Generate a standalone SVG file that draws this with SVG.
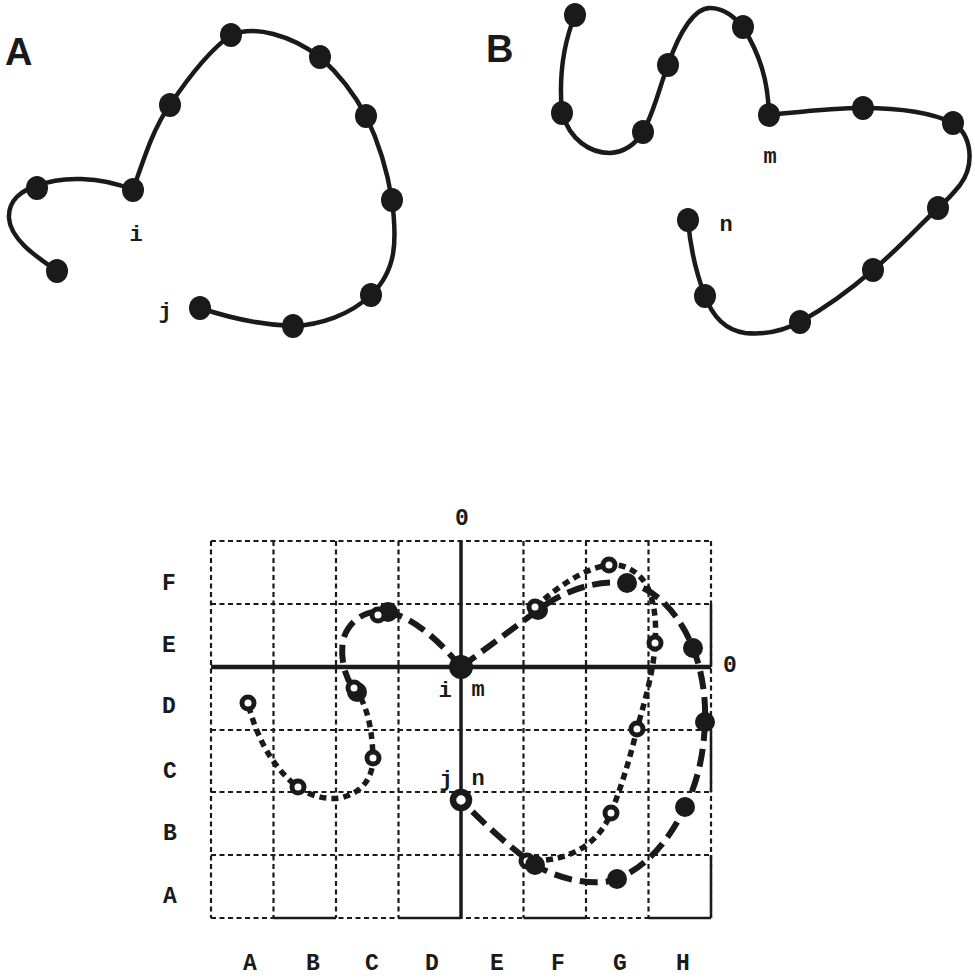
<svg xmlns="http://www.w3.org/2000/svg" width="975" height="979" viewBox="0 0 975 979">
<style>
.bg{fill:#fff}
.curve{fill:none;stroke:#1a1a1a;stroke-width:4.5;stroke-linecap:round;stroke-linejoin:round}
.dot{fill:#1a1a1a}
.grid{fill:none;stroke:#1a1a1a;stroke-width:2.2;stroke-dasharray:5 3.5}
.gsolid{fill:none;stroke:#1a1a1a;stroke-width:2.5}
.axis{fill:none;stroke:#1a1a1a;stroke-width:4.5}
.dashA{fill:none;stroke:#1a1a1a;stroke-width:6;stroke-dasharray:18 8}
.dashB{fill:none;stroke:#1a1a1a;stroke-width:5.5;stroke-dasharray:7 5}
.fdot{fill:#1a1a1a}
.odot{fill:#fff;stroke:#1a1a1a;stroke-width:5}
.panel{font-family:"Liberation Sans",Arial,sans-serif;font-weight:bold;font-size:38px;fill:#1a1a1a}
.lbl{font-family:"Liberation Mono","Courier New",monospace;font-weight:bold;font-size:22px;fill:#1a1a1a}
.axl{font-family:"Liberation Mono","Courier New",monospace;font-weight:bold;font-size:23px;fill:#1a1a1a}
</style>
<rect class="bg" x="0" y="0" width="975" height="979"/>

<!-- Panel A -->
<g id="panelA">
  <text class="panel" x="5" y="65">A</text>
  <g id="connA"><path class="curve" d="M57,271 C40,259 10,240 9,218 C8,200 22,190 37,186 C60,176 100,176 133,190 C145,155 155,125 170,105 C190,75 210,50 231,35 C255,25 290,35 320,57 C340,75 355,95 366,116 C380,145 388,175 392,200 C397,240 397,270 371,295 C350,315 320,325 293,326 C260,325 230,318 200,308"/></g>
  <g id="a_end"><ellipse class="dot" cx="57" cy="271" rx="11" ry="12"/></g>
  <g id="a_1"><ellipse class="dot" cx="37" cy="188" rx="11" ry="12"/></g>
  <g id="a_i"><ellipse class="dot" cx="133" cy="190" rx="11" ry="12"/></g>
  <g id="a_2"><ellipse class="dot" cx="170" cy="105" rx="11" ry="12"/></g>
  <g id="a_3"><ellipse class="dot" cx="231" cy="35" rx="11" ry="12"/></g>
  <g id="a_4"><ellipse class="dot" cx="320" cy="57" rx="11" ry="12"/></g>
  <g id="a_5"><ellipse class="dot" cx="366" cy="116" rx="11" ry="12"/></g>
  <g id="a_6"><ellipse class="dot" cx="392" cy="200" rx="11" ry="12"/></g>
  <g id="a_7"><ellipse class="dot" cx="371" cy="295" rx="11" ry="12"/></g>
  <g id="a_8"><ellipse class="dot" cx="293" cy="326" rx="11" ry="12"/></g>
  <g id="a_j"><ellipse class="dot" cx="200" cy="308" rx="11" ry="12"/></g>
  <text class="lbl" x="136" y="241" text-anchor="middle">i</text>
  <text class="lbl" x="165" y="318" text-anchor="middle">j</text>
</g>

<!-- Panel B -->
<g id="panelB">
  <text class="panel" x="486" y="62">B</text>
  <g id="connB"><path class="curve" d="M575,15 C565,40 558,70 562,113 C570,140 590,153 610,153 C625,152 635,145 643,132 C655,110 660,85 668,65 C680,30 695,8 710,8 C725,8 735,18 743,27 C760,55 768,80 769,115 C800,112 830,108 863,108 C895,108 930,112 953,123 C972,135 975,165 960,185 C952,195 945,202 938,208 C915,230 895,252 873,270 C850,290 825,308 800,322 C785,330 765,335 745,333 C725,330 712,315 705,296 C695,270 690,245 688,220"/></g>
  <g id="b_end"><ellipse class="dot" cx="575" cy="15" rx="11" ry="12"/></g>
  <g id="b_1"><ellipse class="dot" cx="562" cy="113" rx="11" ry="12"/></g>
  <g id="b_2"><ellipse class="dot" cx="643" cy="132" rx="11" ry="12"/></g>
  <g id="b_3"><ellipse class="dot" cx="668" cy="65" rx="11" ry="12"/></g>
  <g id="b_4"><ellipse class="dot" cx="743" cy="27" rx="11" ry="12"/></g>
  <g id="b_m"><ellipse class="dot" cx="769" cy="115" rx="11" ry="12"/></g>
  <g id="b_5"><ellipse class="dot" cx="863" cy="108" rx="11" ry="12"/></g>
  <g id="b_6"><ellipse class="dot" cx="953" cy="123" rx="11" ry="12"/></g>
  <g id="b_7"><ellipse class="dot" cx="938" cy="208" rx="11" ry="12"/></g>
  <g id="b_8"><ellipse class="dot" cx="873" cy="270" rx="11" ry="12"/></g>
  <g id="b_9"><ellipse class="dot" cx="800" cy="322" rx="11" ry="12"/></g>
  <g id="b_10"><ellipse class="dot" cx="705" cy="296" rx="11" ry="12"/></g>
  <g id="b_n"><ellipse class="dot" cx="688" cy="220" rx="11" ry="12"/></g>
  <text class="lbl" x="770" y="163" text-anchor="middle">m</text>
  <text class="lbl" x="726" y="231" text-anchor="middle">n</text>
</g>

<!-- Grid -->
<g id="grid">
  <path class="grid" d="M211,541 V918 M273.5,541 V918 M336,541 V918 M398.5,541 V918 M523.5,541 V918 M586,541 V918 M648.5,541 V918 M711,541 V918"/>
  <path class="grid" d="M211,541 H711 M211,604 H711 M211,730 H711 M211,792 H711 M211,855 H711 M211,918 H711"/>
  <path class="gsolid" d="M273.5,918 H336 M398.5,918 H461 M523.5,918 H586 M648.5,918 H711 M711,604 V667 M711,730 V792 M711,855 V918"/>
  <path class="axis" d="M211,667 H711"/>
  <path class="axis" style="stroke-width:3.5" d="M461,541 V918"/>
</g>

<!-- Axis and grid labels -->
<g id="labels">
  <text class="axl" x="462" y="525" text-anchor="middle">0</text>
  <text class="axl" x="730" y="672" text-anchor="middle">0</text>
  <text class="axl" x="169" y="590" text-anchor="middle">F</text>
  <text class="axl" x="169" y="652" text-anchor="middle">E</text>
  <text class="axl" x="169" y="713" text-anchor="middle">D</text>
  <text class="axl" x="170" y="778" text-anchor="middle">C</text>
  <text class="axl" x="170" y="840" text-anchor="middle">B</text>
  <text class="axl" x="170" y="903" text-anchor="middle">A</text>
  <text class="axl" x="250" y="970" text-anchor="middle">A</text>
  <text class="axl" x="313" y="970" text-anchor="middle">B</text>
  <text class="axl" x="372" y="970" text-anchor="middle">C</text>
  <text class="axl" x="432" y="970" text-anchor="middle">D</text>
  <text class="axl" x="497" y="970" text-anchor="middle">E</text>
  <text class="axl" x="558" y="970" text-anchor="middle">F</text>
  <text class="axl" x="620" y="970" text-anchor="middle">G</text>
  <text class="axl" x="683" y="970" text-anchor="middle">H</text>
  <text class="lbl" x="445" y="697" text-anchor="middle">i</text>
  <text class="lbl" x="478" y="696" text-anchor="middle">m</text>
  <text class="lbl" x="446" y="786" text-anchor="middle">j</text>
  <text class="lbl" x="478" y="785" text-anchor="middle">n</text>
</g>

<!-- Superimposed connectors -->
<g id="connectors">
  <path class="dashB" d="M354,688 C364,700 372,720 373,758 C373,778 362,793 340,798 C325,800 308,795 298,787 C275,770 257,740 248,703"/>
  <path class="dashB" d="M535,607 C560,585 585,568 609,565 C632,563 648,580 652,600 C656,615 656,630 655,643 C654,670 645,700 637,729 C630,758 622,785 611,813 C600,840 575,862 527,861"/>
  <path class="dashA" d="M461,667 L538,610 C565,590 595,580 627,583 C655,587 680,615 693,648 C702,670 706,698 705,722 C704,752 698,782 685,807 C670,840 645,868 617,879 C595,887 560,880 535,865 C510,848 480,820 461,800"/>
  <path class="dashA" d="M461,667 C440,642 415,618 388,612 C365,608 348,622 343,640 C340,660 345,680 357,692"/>
</g>

<!-- Grid dots -->
<g id="g_im"><circle class="fdot" cx="461" cy="667" r="12"/></g>
<g id="g_a1"><circle class="fdot" cx="388" cy="612" r="10"/></g>
<g id="g_b1"><circle class="odot" cx="378" cy="615" r="6"/></g>
<g id="g_a0"><circle class="fdot" cx="357" cy="692" r="10"/></g>
<g id="g_b2"><circle class="odot" cx="354" cy="688" r="6"/></g>
<g id="g_b3"><circle class="odot" cx="373" cy="758" r="6"/></g>
<g id="g_b4"><circle class="odot" cx="298" cy="787" r="6"/></g>
<g id="g_b5"><circle class="odot" cx="248" cy="703" r="6"/></g>
<g id="g_a2"><circle class="fdot" cx="538" cy="610" r="10"/></g>
<g id="g_b6"><circle class="odot" cx="535" cy="607" r="6"/></g>
<g id="g_b7"><circle class="odot" cx="609" cy="565" r="6"/></g>
<g id="g_a3"><circle class="fdot" cx="627" cy="583" r="10"/></g>
<g id="g_b8"><circle class="odot" cx="655" cy="643" r="6"/></g>
<g id="g_a4"><circle class="fdot" cx="693" cy="648" r="10"/></g>
<g id="g_b9"><circle class="odot" cx="637" cy="729" r="6"/></g>
<g id="g_a5"><circle class="fdot" cx="705" cy="722" r="10"/></g>
<g id="g_b10"><circle class="odot" cx="611" cy="813" r="6"/></g>
<g id="g_a6"><circle class="fdot" cx="685" cy="807" r="10"/></g>
<g id="g_a7"><circle class="fdot" cx="617" cy="879" r="10"/></g>
<g id="g_b11"><circle class="odot" cx="527" cy="861" r="6"/></g>
<g id="g_a8"><circle class="fdot" cx="535" cy="865" r="10"/></g>
<g id="g_jn"><circle class="odot" cx="461" cy="800" r="8" style="stroke-width:6.5"/></g>
</svg>
